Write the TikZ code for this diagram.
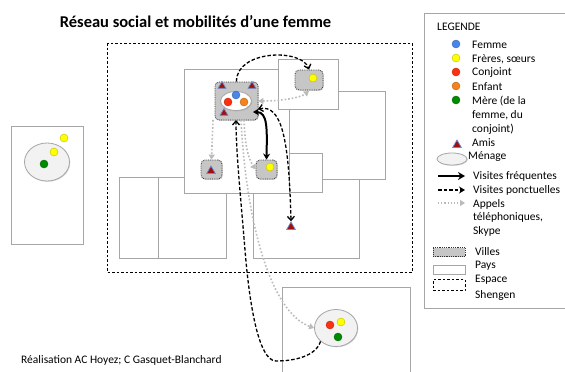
\documentclass[tikz,border=0pt]{standalone}
\usepackage{fontspec}
\setmainfont{Carlito}
\usetikzlibrary{arrows.meta,shapes.geometric,shadows}
\definecolor{cfemme}{HTML}{4A86E8}
\definecolor{cfrere}{HTML}{FFFF00}
\definecolor{cconj}{HTML}{FF3010}
\definecolor{cenf}{HTML}{F5821F}
\definecolor{cmere}{HTML}{008A00}
\definecolor{amired}{HTML}{A01010}
\definecolor{amiblue}{HTML}{6A8CC8}
\definecolor{villegray}{HTML}{C6C6C6}
\definecolor{paysgray}{HTML}{A6A6A6}
\definecolor{callgray}{HTML}{BBBBBB}
\definecolor{menfill}{HTML}{F2F2F2}
\tikzset{
  barb/.tip={Straight Barb[length=4pt,width=7pt]},
  ctip/.tip={Triangle[length=5pt,width=6pt,color=callgray]},
}
\begin{document}
\begin{tikzpicture}[x=1pt,y=-1pt,
  pays/.style={draw=paysgray, line width=0.9pt, fill=white,
    drop shadow={shadow xshift=0.8pt, shadow yshift=-0.8pt, opacity=0.25}},
  ville/.style={draw=black!80, densely dotted, line width=0.8pt, fill=villegray,
    rounded corners=4pt, inner sep=0pt,
    drop shadow={shadow xshift=0.8pt, shadow yshift=-0.8pt, opacity=0.3}},
  menage/.style={ellipse, draw=paysgray, line width=0.8pt, fill=menfill, inner sep=0pt,
    drop shadow={shadow xshift=0.8pt, shadow yshift=-0.8pt, opacity=0.3}},
  dot/.style={circle, inner sep=0pt, minimum size=8pt, fill=#1, draw=#1!75!black, line width=0.4pt},
  ami/.style={regular polygon, regular polygon sides=3, inner sep=0pt, minimum size=10pt,
    fill=amired, draw=amiblue, line width=0.7pt},
  freq/.style={line width=2pt, {Stealth[length=6pt,width=7pt]}-{Stealth[length=6pt,width=7pt]}},
  ponct/.style={line width=1.3pt, dash pattern=on 3.5pt off 2pt},
  call/.style={line width=1.6pt, draw=callgray, dotted},
  lab/.style={anchor=west, inner sep=0pt, font=\fontsize{11.5}{13}\selectfont},
]
\useasboundingbox (0,0) rectangle (565,372);

% Shengen
\draw[line width=0.9pt, dash pattern=on 2.5pt off 2pt] (107,43) rectangle (412,272);

% Pays
\draw[pays] (11,126) rectangle (83,244);
\draw[pays] (282,287) rectangle (410,380);
\draw[pays] (253,150) rectangle (359,258);
\draw[pays] (270,91) rectangle (385,179);
\draw[pays] (270,153) rectangle (322,192);
\draw[pays] (119,177) rectangle (226,258);
\draw[pays] (119,177) rectangle (158,258);
\draw[pays] (184,69) rectangle (289,193);
\draw[pays] (278,59) rectangle (338,109);

% Title
\node[inner sep=0pt, font=\bfseries\fontsize{16.5}{19}\selectfont] (title) at (195.5,22) {Réseau social et mobilités d’une femme};
\node[anchor=west, inner sep=0pt, font=\fontsize{11.5}{13}\selectfont] (credit) at (21,360) {Réalisation AC Hoyez; C Gasquet-Blanchard};

% Villes
\node[ville, minimum width=43pt, minimum height=38pt] (vmain) at (236.5,101) {};
\node[ville, minimum width=28pt, minimum height=20pt] (vtr) at (309,80) {};
\node[ville, minimum width=21pt, minimum height=19pt] (vami) at (211.5,169.5) {};
\node[ville, minimum width=21pt, minimum height=19pt] (vyel) at (266.5,169.5) {};

% Main city content
\node[menage, minimum width=31pt, minimum height=19pt, fill=white] (mmain) at (236,101) {};
\node[dot=cconj] (m1) at (228,102) {};
\node[dot=cfemme] (m2) at (236,95) {};
\node[dot=cenf] (m3) at (244,102) {};
\node[ami, minimum size=9pt] (a1) at (222,86) {};
\node[ami, minimum size=9pt] (a2) at (252,86) {};
\node[ami, minimum size=9pt] (a3) at (224,113) {};

\node[dot=cfrere] (y1) at (313,78) {};
\node[ami] (a4) at (211,171) {};
\node[dot=cfrere] (y2) at (270,167) {};
\node[ami] (afree) at (291,227) {};

% Left country
\node[menage, minimum width=45pt, minimum height=38pt] (mleft) at (47,162) {};
\node[dot=cmere] (g1) at (44,164) {};
\node[dot=cfrere] (y3) at (54,152) {};
\node[dot=cfrere] (y4) at (64,138) {};

% Bottom-right
\node[menage, minimum width=43pt, minimum height=37pt] (mbr) at (336,328) {};
\node[dot=cconj] (r2) at (330,325) {};
\node[dot=cfrere] (y5) at (341,322) {};
\node[dot=cmere] (g2) at (338,337) {};

% Connectors
\coordinate (vmainB1) at (213,120);
\coordinate (vmainB2) at (244,120);
\coordinate (vmainB3) at (241,120);
\coordinate (vmainB4) at (236,120);
\coordinate (vmainR1) at (253,112);
\coordinate (vmainR2) at (258,109);
\coordinate (vtrB) at (309,91);
\coordinate (bend) at (276,361);

\draw[ponct, -{barb}] (vmain.north) .. controls (236,50) and (302,48) .. (vtr.north);
\draw[call, {ctip}-{ctip}] (vmain.east) .. controls (280,101) and (300,98) .. (vtrB);
\draw[call, -{ctip}] (vmainB1) -- (vami.north);
\draw[call, -{ctip}] (vmainB2) .. controls (245,145) and (248,158) .. (vyel.west);
\draw[call, -{ctip}] (vmainB3) .. controls (246,220) and (270,312) .. (mbr.west);
\draw[freq] (vmainR1) .. controls (268,112) and (267,130) .. (vyel.north);
\draw[ponct, {barb}-{barb}] (vmainR2) .. controls (282,104) and (289,140) .. (afree.north);
\draw[ponct, -{barb}] (mbr.south west) .. controls (316,356) and (295,361) .. (bend)
   .. controls (258,361) and (249,300) .. (245,250) .. controls (240,190) and (236,150) .. (vmainB4);

% Legend
\draw[draw=paysgray, line width=0.9pt, fill=white,
  drop shadow={shadow xshift=0.8pt, shadow yshift=-0.8pt, opacity=0.25}] (424,13) rectangle (570,308);
\node[lab] (lt) at (437,27) {LEGENDE};
\node[dot=cfemme] (l1) at (456,44) {};
\node[dot=cfrere] (l2) at (456,58) {};
\node[dot=cconj] (l3) at (456,72) {};
\node[dot=cenf] (l4) at (456,86) {};
\node[dot=cmere] (l5) at (456,100) {};
\node[ami] (l6) at (457,145) {};
\node[menage, minimum width=30pt, minimum height=12pt] (l7) at (452,159) {};
\node[lab] (t1) at (472,45) {Femme};
\node[lab] (t2) at (472,59) {Frères, sœurs};
\node[lab] (t3) at (472,73) {Conjoint};
\node[lab] (t4) at (472,87) {Enfant};
\node[lab] (t5) at (472,101) {Mère (de la};
\node[lab] (t6) at (472,115) {femme, du};
\node[lab] (t7) at (472,129) {conjoint)};
\node[lab] (t8) at (472,143) {Amis};
\node[lab] (t9) at (468,157) {Ménage};
\coordinate (s1a) at (438,176); \coordinate (s1b) at (465,176);
\coordinate (s2a) at (438,190); \coordinate (s2b) at (465,190);
\coordinate (s3a) at (438,203); \coordinate (s3b) at (465,203);
\draw[line width=2pt, -{Stealth[length=7pt,width=8pt]}] (s1a) -- (s1b);
\draw[ponct, -{Stealth[length=6pt,width=7pt]}] (s2a) -- (s2b);
\draw[line width=1.2pt, draw=callgray, dotted, -{ctip}] (s3a) -- (s3b);
\node[lab] (t10) at (473,176) {Visites fréquentes};
\node[lab] (t11) at (473,190) {Visites ponctuelles};
\node[lab] (t12) at (473,204) {Appels};
\node[lab] (t13) at (473,217) {téléphoniques,};
\node[lab] (t14) at (473,231) {Skype};
\node[draw=black!80, densely dotted, line width=0.8pt, fill=villegray, minimum width=32pt, minimum height=9pt, inner sep=0pt] (b1) at (449,252) {};
\node[draw=paysgray, line width=0.9pt, fill=white, minimum width=32pt, minimum height=9pt, inner sep=0pt] (b2) at (449,270) {};
\node[draw=black, line width=0.8pt, dash pattern=on 2.5pt off 2pt, minimum width=32pt, minimum height=11pt, inner sep=0pt] (b3) at (449,285) {};
\node[lab] (t15) at (475,252) {Villes};
\node[lab] (t16) at (475,266) {Pays};
\node[lab] (t17) at (475,280) {Espace};
\node[lab] (t18) at (475,295) {Shengen};
\end{tikzpicture}
\end{document}
